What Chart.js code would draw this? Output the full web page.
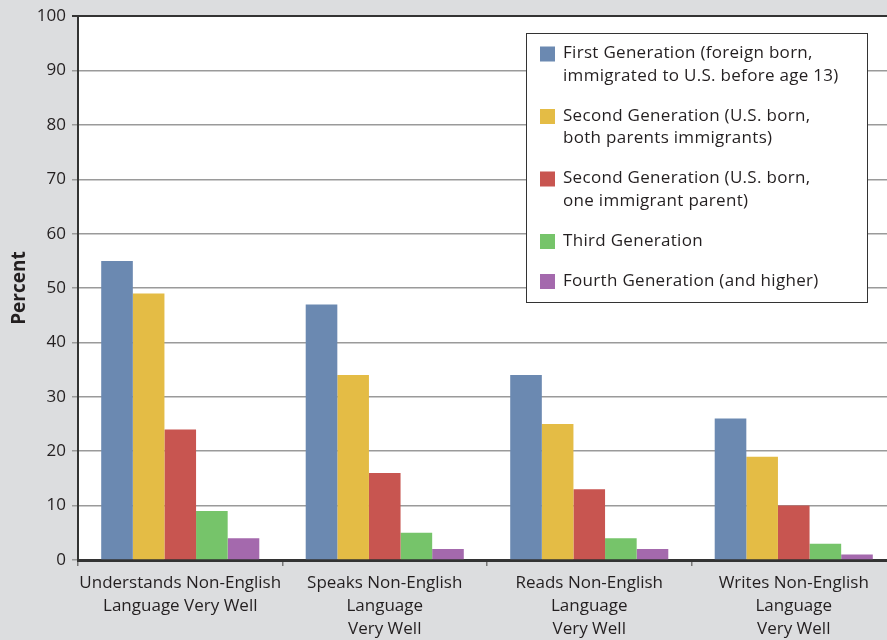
<!DOCTYPE html>
<html>
<head>
<meta charset="utf-8">
<script src="https://cdn.jsdelivr.net/npm/chart.js@4"></script>
<style>
  html, body { margin: 0; padding: 0; overflow: hidden; background: #dcdddf; }
  #wrap { width: 896px; height: 640px; position: relative; }
</style>
</head>
<body>
<div id="wrap"><canvas id="myChart"></canvas></div>
<script>
var categories = [
    ["Understands Non-English", "Language Very Well"],
    ["Speaks Non-English", "Language", "Very Well"],
    ["Reads Non-English", "Language", "Very Well"],
    ["Writes Non-English", "Language", "Very Well"]
];
var seriesNames = [
    ["First Generation (foreign born,", "immigrated to U.S. before age 13)"],
    ["Second Generation (U.S. born,", "both parents immigrants)"],
    ["Second Generation (U.S. born,", "one immigrant parent)"],
    ["Third Generation"],
    ["Fourth Generation (and higher)"]
];
var firstGen = [55, 47, 34, 26];
var secondGenBoth = [49, 34, 25, 19];
var secondGenOne = [24, 16, 13, 10];
var thirdGen = [9, 5, 4, 3];
var fourthGen = [4, 2, 2, 1];
var yTicks = [0, 10, 20, 30, 40, 50, 60, 70, 80, 90, 100];

var colors = ['#6b89b1', '#e4bc45', '#c85550', '#76c46a', '#a469ad'];
var values = [firstGen, secondGenBoth, secondGenOne, thirdGen, fourthGen];
var fontName = "'Open Sans', sans-serif";

// white plot area + legend box drawn on canvas
var plotBg = {
    id: 'plotBg',
    beforeDraw: function(chart) {
        var c = chart.ctx, a = chart.chartArea;
        c.save();
        c.fillStyle = '#ffffff';
        c.fillRect(a.left, a.top, a.right - a.left, a.bottom - a.top);
        c.restore();
    },
    afterDraw: function(chart) {
        var c = chart.ctx;
        c.save();
        var bx = 526, by = 33, bw = 341, bh = 269;
        c.fillStyle = '#ffffff';
        c.fillRect(bx, by, bw, bh);
        c.strokeStyle = '#333333';
        c.lineWidth = 1;
        c.strokeRect(bx + 0.5, by + 0.5, bw, bh);
        c.font = '17px ' + fontName;
        c.letterSpacing = '0.3px';
        c.textBaseline = 'middle';
        var y = 53.5;
        chart.data.datasets.forEach(function(ds) {
            c.fillStyle = ds.backgroundColor;
            c.fillRect(540, y - 7, 15, 15);
            c.fillStyle = '#231f20';
            ds.label.forEach(function(line, j) {
                c.fillText(line, 563, y + j * 22.5);
            });
            y += (ds.label.length - 1) * 22.5 + 40;
        });
        c.restore();
    }
};

var ctx = document.getElementById('myChart');

var myChart = new Chart(ctx, {
    type: 'bar',
    data: {
        labels: categories,
        datasets: values.map(function(v, i) {
            return {
                label: seriesNames[i],
                data: v,
                backgroundColor: colors[i],
                borderWidth: 0,
                categoryPercentage: 0.773,
                barPercentage: 1.0
            };
        })
    },
    options: {
        responsive: true,
        maintainAspectRatio: false,
        animation: false,
        layout: {
            padding: {top: 16, left: 0, right: 0, bottom: 0}
        },
        scales: {
            x: {
                grid: {
                    offset: true,
                    drawOnChartArea: false,
                    drawTicks: true,
                    tickLength: 6,
                    color: '#777777',
                    lineWidth: 1.5
                },
                border: {color: '#333333', width: 3},
                ticks: {
                    color: '#231f20',
                    font: {family: fontName, size: 17, lineHeight: 1.35},
                    padding: 6,
                    maxRotation: 0,
                    autoSkip: false
                },
                afterFit: function(s) { s.height = 80; }
            },
            y: {
                min: 0,
                max: 100,
                afterBuildTicks: function(s) {
                    s.ticks = yTicks.map(function(t) { return {value: t}; });
                },
                grid: {
                    color: function(c) { return c.tick && c.tick.value === 100 ? '#333333' : '#9a9a9a'; },
                    lineWidth: function(c) { return c.tick && c.tick.value === 100 ? 2 : 1.5; },
                    tickLength: 6
                },
                border: {color: '#333333', width: 2},
                ticks: {
                    color: '#231f20',
                    font: {family: fontName, size: 17},
                    padding: 6
                },
                title: {
                    display: true,
                    text: 'Percent',
                    color: '#231f20',
                    font: {family: fontName, size: 19, weight: 'bold'},
                    padding: {top: 8, bottom: 0}
                },
                afterFit: function(s) { s.width = 78; }
            }
        },
        plugins: {
            legend: {display: false},
            tooltip: {enabled: false}
        }
    },
    plugins: [plotBg]
});
</script>
</body>
</html>
